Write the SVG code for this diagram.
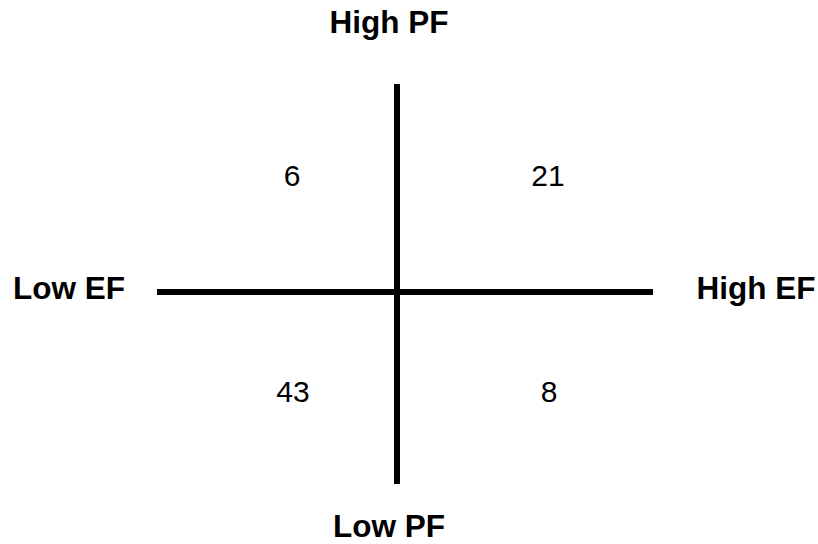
<svg xmlns="http://www.w3.org/2000/svg" width="818" height="544" viewBox="0 0 818 544">
<style>
.lbl{font-family:"Liberation Sans",Arial,sans-serif;font-weight:bold;font-size:31.5px;fill:#000;text-anchor:middle}
.num{font-family:"Liberation Sans",Arial,sans-serif;font-size:30px;fill:#000;text-anchor:middle}
.ax{stroke:#000;stroke-width:6;fill:none}
</style>
<rect width="818" height="544" fill="#fff"/>
<g id="connectors">
<line class="ax" x1="397" y1="84" x2="397" y2="484"/>
<line class="ax" x1="157" y1="292" x2="653" y2="292"/>
</g>
<g id="high-pf"><text class="lbl" x="389" y="33">High PF</text></g>
<g id="low-pf"><text class="lbl" x="389" y="537">Low PF</text></g>
<g id="low-ef"><text class="lbl" x="69" y="299">Low EF</text></g>
<g id="high-ef"><text class="lbl" x="756" y="299">High EF</text></g>
<g id="q-tl"><text class="num" x="292" y="186">6</text></g>
<g id="q-tr"><text class="num" x="548" y="186">21</text></g>
<g id="q-bl"><text class="num" x="293" y="402">43</text></g>
<g id="q-br"><text class="num" x="549" y="402">8</text></g>
</svg>
